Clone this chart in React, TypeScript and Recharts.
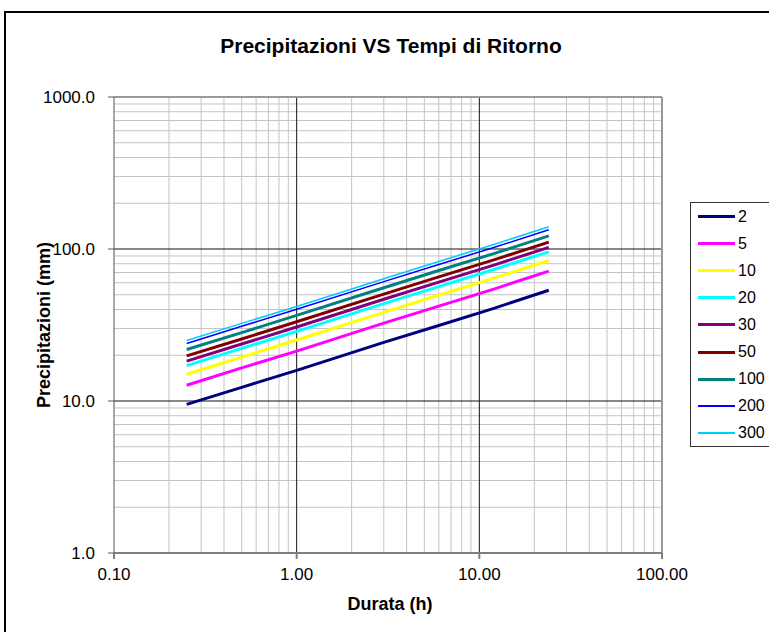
import React from "react";
import { LineChart, Line, XAxis, YAxis, ReferenceLine } from "recharts";

// durations (h) and rainfall depths (mm) per return period
const durations = [0.25, 0.5, 1, 3, 6, 12, 24];
const tr2 = [9.5, 12.3, 15.9, 24.3, 31.4, 40.7, 53.5];
const tr5 = [12.7, 16.5, 21.3, 32.5, 42.1, 54.5, 71.5];
const tr10 = [15.0, 19.4, 25.2, 38.3, 49.7, 64.3, 84.0];
const tr20 = [17.1, 22.2, 28.7, 43.7, 56.6, 73.3, 95.8];
const tr30 = [18.3, 23.7, 30.7, 46.7, 60.6, 78.4, 102.5];
const tr50 = [19.8, 25.6, 33.2, 50.5, 65.5, 84.8, 110.9];
const tr100 = [21.8, 28.2, 36.6, 55.6, 72.2, 93.3, 122.1];
const tr200 = [23.9, 31.0, 40.1, 61.0, 79.1, 102.3, 133.8];
const tr300 = [25.0, 32.4, 41.9, 63.8, 82.8, 107.1, 140.0];

const xTicks = [0.1, 1, 10, 100];
const yTicks = [1, 10, 100, 1000];
const xMinor = [0.2, 0.3, 0.4, 0.5, 0.6, 0.7, 0.8, 0.9, 2, 3, 4, 5, 6, 7, 8, 9, 20, 30, 40, 50, 60, 70, 80, 90];
const yMinor = [2, 3, 4, 5, 6, 7, 8, 9, 20, 30, 40, 50, 60, 70, 80, 90, 200, 300, 400, 500, 600, 700, 800, 900];
const xMajor = [1, 10];
const yMajor = [10, 100];

const series = [
  { key: "tr2", name: "2", values: tr2, color: "#000080", width: 3 },
  { key: "tr5", name: "5", values: tr5, color: "#ff00ff", width: 3 },
  { key: "tr10", name: "10", values: tr10, color: "#ffff00", width: 3 },
  { key: "tr20", name: "20", values: tr20, color: "#00ffff", width: 3 },
  { key: "tr30", name: "30", values: tr30, color: "#800080", width: 3 },
  { key: "tr50", name: "50", values: tr50, color: "#800000", width: 3 },
  { key: "tr100", name: "100", values: tr100, color: "#008080", width: 3 },
  { key: "tr200", name: "200", values: tr200, color: "#0000ff", width: 1.5 },
  { key: "tr300", name: "300", values: tr300, color: "#00ccff", width: 1.5 },
];

const data = durations.map((t, i) => {
  const row: Record<string, number> = { t };
  series.forEach((s) => {
    row[s.key] = s.values[i];
  });
  return row;
});

const FONT = "'Liberation Sans', Arial, sans-serif";

function LegendBox() {
  return (
    <div
      style={{
        position: "absolute",
        left: 690,
        top: 202,
        width: 100,
        height: 245,
        border: "1px solid #333",
        background: "#fff",
        boxSizing: "border-box",
        fontFamily: FONT,
      }}
    >
      {series.map((s) => (
        <div
          key={s.key}
          style={{ display: "flex", alignItems: "center", height: 27.1 }}
        >
          <div
            style={{
              marginLeft: 7,
              width: 37,
              height: s.width > 2 ? 3 : 2,
              background: s.color,
            }}
          />
          <span style={{ marginLeft: 3, fontSize: 16, color: "#000" }}>
            {s.name}
          </span>
        </div>
      ))}
    </div>
  );
}

export default function App() {
  return (
    <div
      style={{
        position: "absolute",
        left: 0,
        top: 0,
        width: 769,
        height: 632,
        overflow: "hidden",
        background: "#fff",
        fontFamily: FONT,
      }}
    >
      <div
        style={{
          position: "absolute",
          left: 4,
          top: 11,
          width: 820,
          height: 700,
          border: "2px solid #000",
        }}
      />
      <div
        style={{
          position: "absolute",
          left: 0,
          width: 782,
          top: 34,
          textAlign: "center",
          fontSize: 21,
          fontWeight: "bold",
        }}
      >
        Precipitazioni VS Tempi di Ritorno
      </div>
      <div
        style={{
          position: "absolute",
          left: 0,
          width: 780,
          top: 594,
          textAlign: "center",
          fontSize: 18,
          fontWeight: "bold",
        }}
      >
        Durata (h)
      </div>
      <div
        style={{
          position: "absolute",
          left: 44,
          top: 325,
          transform: "translate(-50%, -50%) rotate(-90deg)",
          whiteSpace: "nowrap",
          fontSize: 18,
          fontWeight: "bold",
        }}
      >
        Precipitazioni (mm)
      </div>
      <div style={{ position: "absolute", left: 0, top: 0 }}>
        <LineChart
          width={769}
          height={632}
          data={data}
          margin={{ top: 97, right: 107, bottom: 39, left: 54 }}
        >
          <XAxis
            dataKey="t"
            type="number"
            scale="log"
            domain={[0.1, 100]}
            ticks={xTicks}
            allowDataOverflow
            tickFormatter={(v: number) => v.toFixed(2)}
            stroke="#808080"
            strokeWidth={2}
            tickSize={6}
            tickMargin={9}
            height={40}
            tick={{ fill: "#000", fontSize: 17, fontFamily: FONT }}
          />
          <YAxis
            type="number"
            scale="log"
            domain={[1, 1000]}
            ticks={yTicks}
            allowDataOverflow
            tickFormatter={(v: number) => v.toFixed(1)}
            stroke="#555"
            tickSize={6}
            tickMargin={13}
            width={60}
            tick={{ fill: "#000", fontSize: 17, fontFamily: FONT }}
          />
          {xMinor.map((v) => (
            <ReferenceLine key={`xm${v}`} x={v} stroke="#c4c4c4" strokeWidth={1} />
          ))}
          {yMinor.map((v) => (
            <ReferenceLine key={`ym${v}`} y={v} stroke="#c4c4c4" strokeWidth={1} />
          ))}
          {xMajor.map((v) => (
            <ReferenceLine key={`xM${v}`} x={v} stroke="#111" strokeWidth={1} />
          ))}
          {yMajor.map((v) => (
            <ReferenceLine key={`yM${v}`} y={v} stroke="#111" strokeWidth={1} />
          ))}
          <ReferenceLine x={100} stroke="#999" strokeWidth={2} />
          <ReferenceLine y={1000} stroke="#999" strokeWidth={2} />
          {series.map((s) => (
            <Line
              key={s.key}
              dataKey={s.key}
              name={s.name}
              type="linear"
              stroke={s.color}
              strokeWidth={s.width}
              dot={false}
              isAnimationActive={false}
            />
          ))}
        </LineChart>
      </div>
      <LegendBox />
    </div>
  );
}
